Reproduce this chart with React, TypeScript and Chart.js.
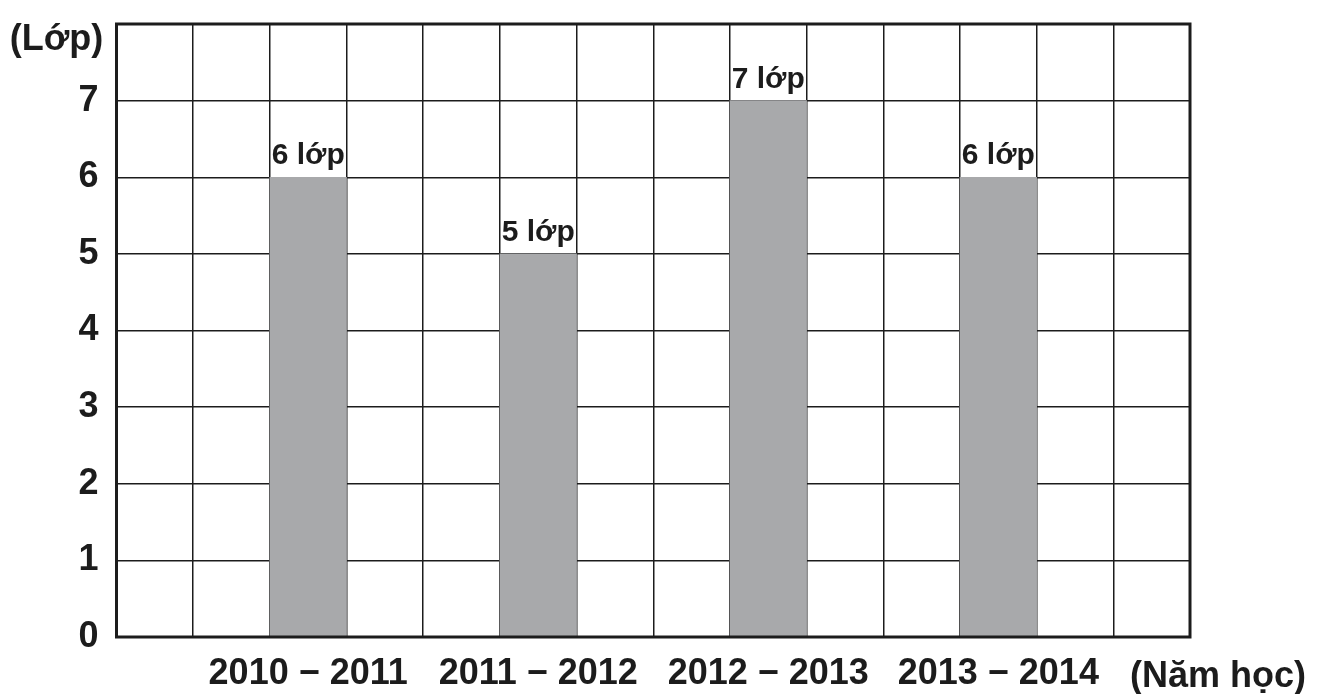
import React, { useEffect, useRef } from "react";
import { Chart, registerables } from "chart.js";

Chart.register(...registerables);

// ---- data ----
const schoolYears = ["2010 − 2011", "2011 − 2012", "2012 − 2013", "2013 − 2014"];
const classCounts = [6, 5, 7, 6];
const yTickValues = [0, 1, 2, 3, 4, 5, 6, 7];
const yUnit = "(Lớp)";
const xUnit = "(Năm học)";
const unitWord = "lớp";
const emptyBefore = 2; // empty grid columns before first year
const emptyBetween = 2; // empty grid columns between years
const emptyAfter = 2; // empty grid columns after last year
const yMax = 8;

// build the grid columns from the data
const columnLabels: string[] = [];
const columnValues: (number | null)[] = [];
for (let i = 0; i < emptyBefore; i++) { columnLabels.push(""); columnValues.push(null); }
schoolYears.forEach((y, i) => {
  if (i > 0) for (let k = 0; k < emptyBetween; k++) { columnLabels.push(""); columnValues.push(null); }
  columnLabels.push(y);
  columnValues.push(classCounts[i]);
});
for (let i = 0; i < emptyAfter; i++) { columnLabels.push(""); columnValues.push(null); }

const FONT = "'Liberation Sans', Arial, Helvetica, sans-serif";
const INK = "#1c1c1c";

const decorPlugin = {
  id: "decor",
  afterDatasetsDraw(chart: any) {
    const ctx = chart.ctx;
    const meta = chart.getDatasetMeta(0);
    ctx.save();
    ctx.fillStyle = INK;
    ctx.font = `bold 30px ${FONT}`;
    ctx.textAlign = "center";
    ctx.textBaseline = "alphabetic";
    meta.data.forEach((el: any, i: number) => {
      const v = columnValues[i];
      if (v == null) return;
      ctx.fillText(`${v} ${unitWord}`, el.x, el.y - 13);
    });
    ctx.restore();
  },
  afterDraw(chart: any) {
    const { ctx, chartArea } = chart;
    ctx.save();
    ctx.strokeStyle = INK;
    ctx.lineWidth = 3;
    ctx.strokeRect(chartArea.left, chartArea.top, chartArea.right - chartArea.left, chartArea.bottom - chartArea.top);
    ctx.fillStyle = INK;
    ctx.font = `bold 36px ${FONT}`;
    ctx.textAlign = "center";
    ctx.textBaseline = "alphabetic";
    ctx.fillText(yUnit, chartArea.left - 60, chartArea.top + 26);
    ctx.fillText(xUnit, chartArea.right + 28, chartArea.bottom + 50);
    ctx.restore();
  },
};

export default function App() {
  const ref = useRef<HTMLCanvasElement>(null);
  useEffect(() => {
    if (!ref.current) return;
    const chart = new Chart(ref.current, {
      type: "bar",
      data: {
        labels: columnLabels,
        datasets: [
          {
            data: columnValues as any,
            backgroundColor: "#a8a9ab",
            borderWidth: 0,
            barPercentage: 1,
            categoryPercentage: 1,
          },
        ],
      },
      options: {
        responsive: false,
        animation: false,
        events: [],
        layout: { padding: { left: 0, right: 133, top: 24, bottom: 0 } },
        plugins: { legend: { display: false }, tooltip: { enabled: false } },
        scales: {
          x: {
            z: 1,
            offset: true,
            grid: { offset: true, color: INK, lineWidth: 1.5, drawTicks: false },
            border: { display: false },
            ticks: {
              autoSkip: false,
              maxRotation: 0,
              minRotation: 0,
              padding: 15,
              color: INK,
              font: { family: FONT, size: 36, weight: "bold" },
            },
            afterFit(scale: any) {
              scale.height = 57;
              scale.paddingLeft = 0;
              scale.paddingRight = 0;
            },
          },
          y: {
            min: 0,
            max: yMax,
            grid: { color: INK, lineWidth: 1.5, drawTicks: false },
            border: { display: false },
            afterBuildTicks(scale: any) {
              scale.ticks = [...yTickValues, yMax].map((v) => ({ value: v }));
            },
            ticks: {
              padding: 18,
              color: INK,
              font: { family: FONT, size: 36, weight: "bold" },
              callback: (v: any) => (yTickValues.includes(Number(v)) ? String(v) : ""),
            },
            afterFit(scale: any) {
              scale.width = 116.5;
              scale.paddingTop = 0;
              scale.paddingBottom = 0;
            },
          },
        },
      },
      plugins: [decorPlugin],
    });
    return () => chart.destroy();
  }, []);
  return (
    <div style={{ position: "fixed", left: 0, top: 0, width: 1323, height: 694, background: "#fff" }}>
      <canvas ref={ref} width={1323} height={694} style={{ display: "block" }} />
    </div>
  );
}
